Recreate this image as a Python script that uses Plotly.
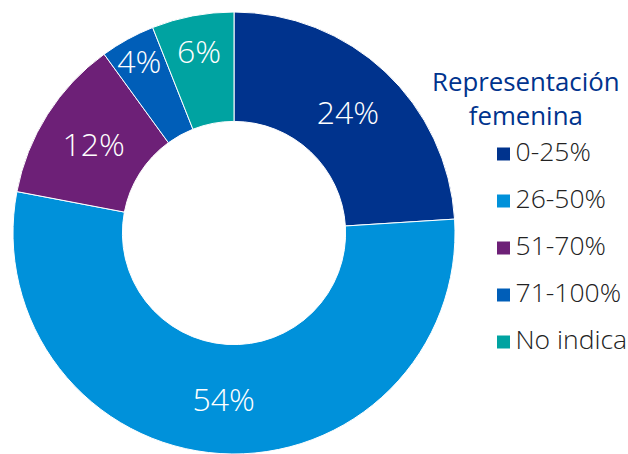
import plotly.graph_objects as go

categories = ["0-25%", "26-50%", "51-70%", "71-100%", "No indica"]
values = [24, 54, 12, 4, 6]
colors = ["#00338D", "#0091DA", "#6D2077", "#005EB8", "#00A3A1"]
legend_title = "Representación<br>femenina"

W, H = 628, 454
TOP = 12
fig = go.Figure()

fig.add_trace(go.Pie(
    labels=categories,
    values=values,
    hole=0.505,
    sort=False,
    direction="clockwise",
    rotation=0,
    marker=dict(colors=colors, line=dict(color="white", width=1)),
    texttemplate="%{value}%",
    textposition="inside",
    insidetextorientation="horizontal",
    textfont=dict(family="Open Sans", size=32, color="white", weight=300),
    showlegend=False,
    hoverinfo="label+percent",
    domain=dict(x=[13 / W, 455 / W], y=[0, 1]),
))

# legend drawn as a key: one row per category on a hidden pixel-scaled axis
rows = list(range(len(categories)))
ROW_PX = 47          # vertical spacing of key rows
FIRST_ROW_PX = 154   # centre of first row (from top of figure)
MARK_X = 503.5       # centre of key squares (px)
TEXT_X = 515.5       # left edge of key labels (px)

fig.add_trace(go.Scatter(
    x=[MARK_X] * len(rows), y=rows, mode="markers",
    marker=dict(symbol="square", size=13, color=colors, line=dict(width=0)),
    showlegend=False, hoverinfo="skip", cliponaxis=False,
))
fig.add_trace(go.Scatter(
    x=[TEXT_X] * len(rows), y=rows, mode="text", text=categories,
    textposition="middle right",
    textfont=dict(family="Open Sans", size=26.5, color="#222222", weight=300),
    showlegend=False, hoverinfo="skip", cliponaxis=False,
))

plot_h = H - TOP
y_top = -(FIRST_ROW_PX - TOP) / ROW_PX
y_bottom = y_top + plot_h / ROW_PX

fig.add_annotation(
    text=legend_title, x=526 / W, y=1 - (61 - TOP) / plot_h, xref="paper", yref="paper",
    xanchor="center", yanchor="top", showarrow=False, align="center",
    font=dict(family="Open Sans", size=25.8, color="#00338D"),
)

fig.update_layout(
    width=W, height=H,
    margin=dict(l=0, r=0, t=TOP, b=0),
    paper_bgcolor="white", plot_bgcolor="rgba(0,0,0,0)",
    xaxis=dict(visible=False, range=[0, W], domain=[0, 1], fixedrange=True),
    yaxis=dict(visible=False, range=[y_bottom, y_top], domain=[0, 1], fixedrange=True),
    uniformtext=dict(minsize=32, mode="show"),
    showlegend=False,
)

fig.write_html(
    "out.html",
    config={"displayModeBar": False},
    post_script=(
        "document.body.style.margin='0';"
        "document.body.style.overflow='hidden';"
        "document.documentElement.style.overflow='hidden';"
    ),
)
